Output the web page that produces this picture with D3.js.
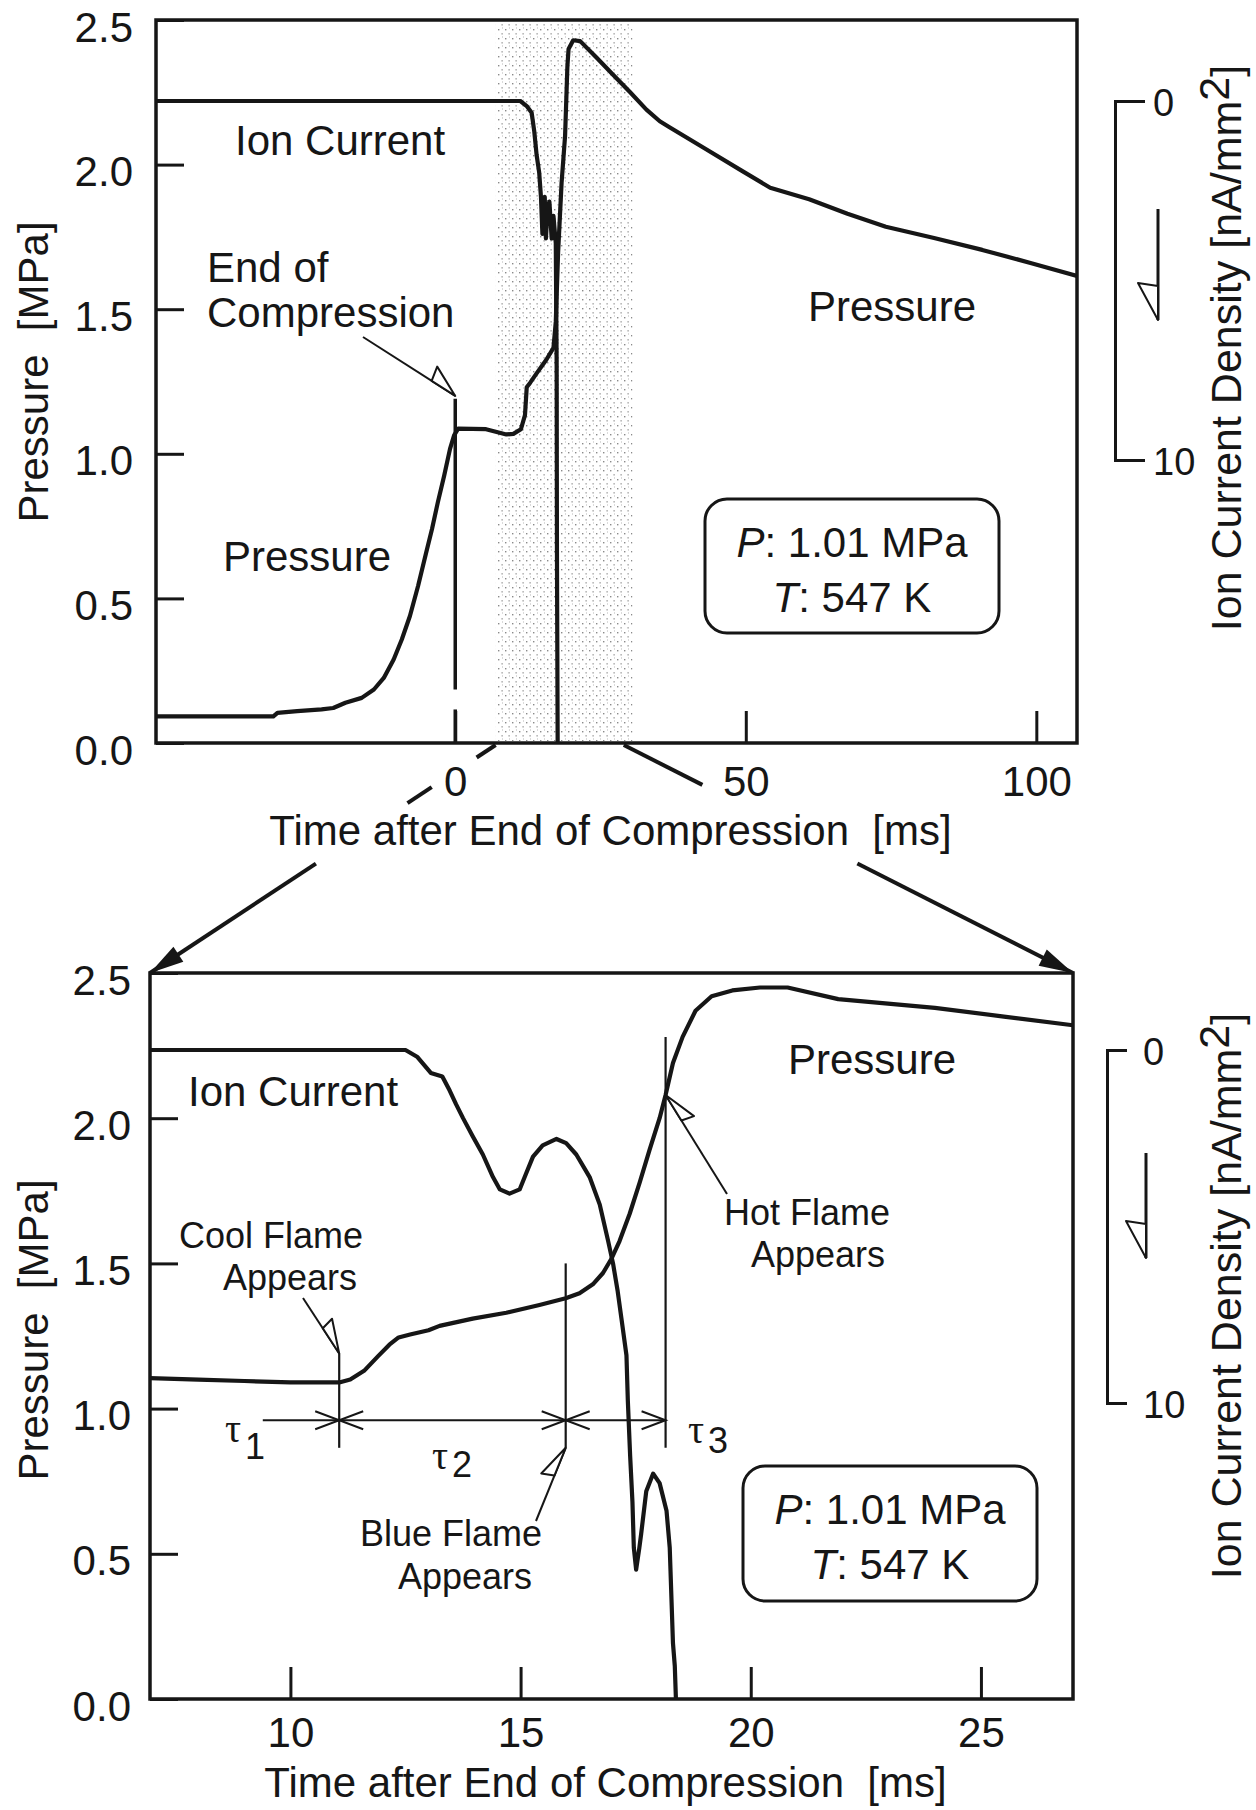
<!DOCTYPE html>
<html lang="en">
<head>
<meta charset="UTF-8">
<title>Pressure and Ion Current after End of Compression</title>
<script src="https://d3js.org/d3.v7.min.js"></script>
<style>
  body { margin: 0; background: #fff; }
  svg text { font-family: "Liberation Sans", Arial, Helvetica, sans-serif; fill: #161616; }
  .axis text { font-size: 42px; }
  .axis line { stroke: #161616; stroke-width: 3; }
  .ion-axis text { font-size: 38px; }
  .ion-axis path { stroke: #161616; stroke-width: 3; fill: none; }
  .lbl { font-size: 42px; }
  .rtitle { font-size: 43px; }
  .note { font-size: 36px; }
  .tau { font-family: "Liberation Serif", "DejaVu Serif", serif; font-size: 40px; }
</style>
</head>
<body>
<div id="chart"></div>
<script>
// ---------- data ----------
const yTickValues = [0, 0.5, 1.0, 1.5, 2.0, 2.5];
const topTimeTicks = [0, 50, 100];
const bottomTimeTicks = [10, 15, 20, 25];
const ionTicks = [0, 10];

// top panel: [time ms, pressure MPa]
const topPressure = [
  [-51.5, 0.092], [-31.3, 0.092], [-30.6, 0.104], [-27.2, 0.110], [-23.0, 0.116],
  [-21.0, 0.121], [-18.9, 0.139], [-16.1, 0.156], [-14.0, 0.185], [-12.3, 0.225],
  [-10.6, 0.289], [-9.2, 0.358], [-7.8, 0.439], [-6.4, 0.543], [-5.0, 0.659],
  [-4.0, 0.740], [-3.0, 0.832], [-1.9, 0.925], [-0.9, 1.017], [-0.2, 1.064],
  [0.5, 1.087], [5.3, 1.085], [8.8, 1.067], [10.0, 1.069], [11.3, 1.085],
  [12.0, 1.134], [12.3, 1.23], [12.9, 1.246], [14.0, 1.278], [15.7, 1.326],
  [16.9, 1.366], [17.3, 1.456], [17.7, 1.696], [18.3, 1.937], [18.9, 2.099],
  [19.3, 2.34], [19.5, 2.40], [20.3, 2.43], [21.5, 2.427], [24.3, 2.37],
  [27.2, 2.31], [30.1, 2.25], [32.9, 2.19], [35.2, 2.15], [36.8, 2.13],
  [42.6, 2.06], [49.2, 1.98], [54.2, 1.92], [60.9, 1.88], [67.5, 1.83],
  [74.1, 1.785], [82.4, 1.746], [90.7, 1.705], [99.0, 1.66], [107.0, 1.615]
];

// top panel: [time ms, ion current density nA/mm2]
const topIon = [
  [-51.5, 0], [11.2, 0], [12.3, 0.14], [13.15, 0.33], [13.6, 0.85], [14.0, 1.5],
  [14.45, 2.0], [14.75, 2.67], [15.0, 3.7], [15.2, 2.9], [15.4, 2.67], [15.6, 3.83],
  [15.9, 3.0], [16.2, 2.8], [16.6, 3.83], [16.9, 3.2], [17.3, 3.96], [17.45, 7.3],
  [17.5, 12.5], [17.65, 19]
];

// bottom panel: [time ms, pressure MPa]
const bottomPressure = [
  [6.95, 1.105], [8.0, 1.10], [9.0, 1.095], [10.0, 1.09], [11.06, 1.09],
  [11.3, 1.10], [11.6, 1.13], [11.9, 1.18], [12.15, 1.22], [12.35, 1.245],
  [12.6, 1.255], [13.0, 1.27], [13.24, 1.285], [13.96, 1.31], [14.69, 1.33],
  [15.41, 1.357], [15.98, 1.38], [16.28, 1.397], [16.57, 1.428], [16.79, 1.467],
  [16.97, 1.515], [17.15, 1.577], [17.37, 1.671], [17.59, 1.78], [17.8, 1.89],
  [18.02, 2.0], [18.15, 2.08], [18.31, 2.19], [18.52, 2.28], [18.8, 2.37],
  [19.15, 2.42], [19.6, 2.44], [20.2, 2.45], [20.8, 2.45], [21.9, 2.41],
  [24.0, 2.38], [25.5, 2.35], [27.0, 2.32]
];

// bottom panel: [time ms, ion current density nA/mm2]
const bottomIon = [
  [6.95, 0], [12.5, 0], [12.76, 0.2], [13.05, 0.65], [13.3, 0.75], [13.46, 1.15],
  [13.6, 1.54], [13.75, 1.93], [13.96, 2.44], [14.18, 2.96], [14.4, 3.6],
  [14.55, 3.95], [14.76, 4.07], [14.98, 3.95], [15.12, 3.5], [15.27, 3.02],
  [15.48, 2.7], [15.78, 2.52], [15.99, 2.64], [16.21, 2.96], [16.5, 3.6],
  [16.72, 4.38], [16.9, 5.4], [17.01, 6.06], [17.11, 6.84], [17.19, 7.6],
  [17.3, 8.65], [17.33, 9.94], [17.38, 11.5], [17.43, 12.8], [17.46, 14.1],
  [17.51, 14.72], [17.58, 14.1], [17.62, 13.7], [17.73, 12.5], [17.88, 12.0],
  [18.02, 12.27], [18.17, 13.05], [18.24, 14.1], [18.31, 16.8], [18.35, 17.45],
  [18.38, 18.6]
];

// event times [ms]
const coolFlame = 11.06, blueFlame = 15.98, hotFlame = 18.15;
const zoomFrom = 6.95, zoomTo = 29;      // window enlarged in lower panel
const shadeFrom = 7, shadeTo = 30.5;     // stippled band in upper panel

// ---------- setup ----------
const ink = "#161616";
const svg = d3.select("#chart").append("svg")
    .attr("width", 1256)
    .attr("height", 1810);

const defs = svg.append("defs");
const pat = defs.append("pattern").attr("id", "stipple")
    .attr("width", 7).attr("height", 9).attr("patternUnits", "userSpaceOnUse");
pat.append("rect").attr("x", 1).attr("y", 2).attr("width", 1.4).attr("height", 1.4).attr("fill", "#8a8a8a");
pat.append("rect").attr("x", 4.5).attr("y", 6).attr("width", 1.2).attr("height", 1.6).attr("fill", "#a0a0a0");
pat.append("rect").attr("x", 5).attr("y", 0.5).attr("width", 1).attr("height", 1).attr("fill", "#b8b8b8");

const topP = {
  id: "top",
  x: d3.scaleLinear().domain([-51.5, 107]).range([156, 1077]),
  y: d3.scaleLinear().domain([0, 2.5]).range([743, 20]),
  ion: d3.scaleLinear().domain([0, 10]).range([101, 460]),
  xTicks: topTimeTicks, xPad: 23, yPad: 23,
  pressure: topPressure, ionData: topIon,
  bracketX: 1115, bracketOuter: 30, bracketPad: 38,
  arrowX: 1158, arrowY: [209, 320],
  xTitleY: 845, yTitleY: 372, rTitleY: 348
};
const botP = {
  id: "bot",
  x: d3.scaleLinear().domain([6.95, 27]).range([150, 1073]),
  y: d3.scaleLinear().domain([0, 2.5]).range([1699, 973]),
  ion: d3.scaleLinear().domain([0, 10]).range([1050, 1403]),
  xTicks: bottomTimeTicks, xPad: 18, yPad: 19,
  pressure: bottomPressure, ionData: bottomIon,
  bracketX: 1107, bracketOuter: 20, bracketPad: 36,
  arrowX: 1146, arrowY: [1153, 1258],
  xTitleY: 1797, yTitleY: 1330, rTitleY: 1296
};

// half-open arrowhead used on leaders
function halfArrow(g, A, B, side, L = 30, w = 13, sw = 2) {
  const dx = B[0] - A[0], dy = B[1] - A[1], len = Math.hypot(dx, dy);
  const u = [dx / len, dy / len], n = [-u[1], u[0]];
  g.append("line").attr("x1", A[0]).attr("y1", A[1]).attr("x2", B[0]).attr("y2", B[1])
      .attr("stroke", ink).attr("stroke-width", sw);
  const base = [B[0] - u[0] * L, B[1] - u[1] * L];
  const apex = [base[0] + side * n[0] * w - u[0] * 3, base[1] + side * n[1] * w - u[1] * 3];
  g.append("path").attr("d", `M${B}L${base}L${apex}Z`)
      .attr("fill", "#fff").attr("stroke", ink).attr("stroke-width", 2).attr("stroke-linejoin", "round");
}

function chevron(g, x, y, dir) {
  g.append("path").attr("d", `M${x - dir * 24},${y - 9}L${x},${y}L${x - dir * 24},${y + 9}`)
      .attr("fill", "none").attr("stroke", ink).attr("stroke-width", 2);
}

function panel(p) {
  const g = svg.append("g");
  const [x0, x1] = p.x.range(), [y0, y1] = p.y.range();

  defs.append("clipPath").attr("id", p.id + "-clip").append("rect")
      .attr("x", x0).attr("y", y1).attr("width", x1 - x0).attr("height", y0 - y1);

  // axes (ticks point inward)
  g.append("g").attr("class", "axis").attr("transform", `translate(${x0},0)`)
      .call(d3.axisLeft(p.y).tickValues(yTickValues).tickFormat(d3.format(".1f"))
          .tickSizeInner(-28).tickSizeOuter(0).tickPadding(p.yPad))
      .call(a => a.select(".domain").remove())
      .call(a => a.selectAll("text").attr("dy", "0.5em"));

  g.append("g").attr("class", "axis").attr("transform", `translate(0,${y0})`)
      .call(d3.axisBottom(p.x).tickValues(p.xTicks)
          .tickSizeInner(-32).tickSizeOuter(0).tickPadding(p.xPad))
      .call(a => a.select(".domain").remove());

  const plot = g.append("g").attr("clip-path", `url(#${p.id}-clip)`);
  p.plot = plot;
  p.g = g;

  const pLine = d3.line().x(d => p.x(d[0])).y(d => p.y(d[1]));
  const iLine = d3.line().x(d => p.x(d[0])).y(d => p.ion(d[1]));

  p.drawCurves = () => {
    plot.append("path").datum(p.ionData).attr("d", iLine)
        .attr("fill", "none").attr("stroke", ink).attr("stroke-width", 4.2)
        .attr("stroke-linejoin", "round");
    plot.append("path").datum(p.pressure).attr("d", pLine)
        .attr("fill", "none").attr("stroke", ink).attr("stroke-width", 4.2)
        .attr("stroke-linejoin", "round");
    g.append("rect").attr("x", x0).attr("y", y1).attr("width", x1 - x0).attr("height", y0 - y1)
        .attr("fill", "none").attr("stroke", ink).attr("stroke-width", 3.5);
  };

  // ion current scale bracket on the right
  g.append("g").attr("class", "ion-axis").attr("transform", `translate(${p.bracketX},0)`)
      .call(d3.axisRight(p.ion).tickValues(ionTicks)
          .tickSizeInner(0).tickSizeOuter(p.bracketOuter).tickPadding(p.bracketPad))
      .call(a => a.selectAll("text").attr("dy", "0.38em"));

  // direction arrow (ion current increases downward)
  halfArrow(g, [p.arrowX, p.arrowY[0]], [p.arrowX, p.arrowY[1]], 1, 34, 20, 3);

  // titles
  g.append("text").attr("class", "lbl").attr("text-anchor", "middle")
      .attr("x", (x0 + x1) / 2 - 6).attr("y", p.xTitleY)
      .text("Time after End of Compression\u00a0\u00a0[ms]");
  g.append("text").attr("class", "lbl").attr("text-anchor", "middle")
      .attr("transform", `translate(48,${p.yTitleY}) rotate(-90)`)
      .text("Pressure\u00a0\u00a0[MPa]");
  const rt = g.append("text").attr("class", "rtitle").attr("text-anchor", "middle")
      .attr("transform", `translate(1241,${p.rTitleY}) rotate(-90)`);
  rt.append("tspan").text("Ion Current Density [nA/mm");
  rt.append("tspan").attr("dy", -12).text("2");
  rt.append("tspan").attr("dy", 12).text("]");

  return p;
}

function conditionsBox(g, x, y, w, h) {
  g.append("rect").attr("x", x).attr("y", y).attr("width", w).attr("height", h)
      .attr("rx", 22).attr("fill", "#fff").attr("stroke", ink).attr("stroke-width", 3);
  const cx = x + w / 2;
  const t1 = g.append("text").attr("class", "lbl").attr("text-anchor", "middle")
      .attr("x", cx).attr("y", y + 58);
  t1.append("tspan").attr("font-style", "italic").text("P");
  t1.append("tspan").text(": 1.01 MPa");
  const t2 = g.append("text").attr("class", "lbl").attr("text-anchor", "middle")
      .attr("x", cx).attr("y", y + 113);
  t2.append("tspan").attr("font-style", "italic").text("T");
  t2.append("tspan").text(": 547 K");
}

// ---------- top panel ----------
panel(topP);
topP.plot.append("rect")
    .attr("x", topP.x(shadeFrom)).attr("y", 24)
    .attr("width", topP.x(shadeTo) - topP.x(shadeFrom)).attr("height", topP.y(0) - 26)
    .attr("fill", "url(#stipple)");
topP.drawCurves();

// end-of-compression marker (with small break)
topP.g.append("line").attr("x1", topP.x(0)).attr("x2", topP.x(0))
    .attr("y1", topP.y(1.19)).attr("y2", topP.y(0.185))
    .attr("stroke", ink).attr("stroke-width", 3.5);
topP.g.append("line").attr("x1", topP.x(0)).attr("x2", topP.x(0))
    .attr("y1", topP.y(0.116)).attr("y2", topP.y(0))
    .attr("stroke", ink).attr("stroke-width", 3.5);
halfArrow(topP.g, [363, 337], [topP.x(0), topP.y(1.2)], -1, 28, 15);

topP.g.append("text").attr("class", "lbl").attr("x", 235).attr("y", 155).text("Ion Current");
topP.g.append("text").attr("class", "lbl").attr("x", 207).attr("y", 282).text("End of");
topP.g.append("text").attr("class", "lbl").attr("x", 207).attr("y", 327).text("Compression");
topP.g.append("text").attr("class", "lbl").attr("x", 223).attr("y", 571).text("Pressure");
topP.g.append("text").attr("class", "lbl").attr("x", 808).attr("y", 321).text("Pressure");
conditionsBox(topP.g, 705, 499, 294, 134);

// ---------- bottom panel ----------
panel(botP);
botP.drawCurves();

const bg = botP.g;
const tauY = botP.y(0.96);
const markBottom = botP.y(0.865);
[[coolFlame, 1.19], [blueFlame, 1.5], [hotFlame, 2.28]].forEach(([t, p]) => {
  bg.append("line").attr("x1", botP.x(t)).attr("x2", botP.x(t))
      .attr("y1", botP.y(p)).attr("y2", markBottom)
      .attr("stroke", ink).attr("stroke-width", 2.2);
});
bg.append("line").attr("x1", botP.x(9.4)).attr("x2", botP.x(hotFlame))
    .attr("y1", tauY).attr("y2", tauY).attr("stroke", ink).attr("stroke-width", 2);
chevron(bg, botP.x(coolFlame), tauY, 1);
chevron(bg, botP.x(coolFlame), tauY, -1);
chevron(bg, botP.x(blueFlame), tauY, 1);
chevron(bg, botP.x(blueFlame), tauY, -1);
chevron(bg, botP.x(hotFlame), tauY, 1);

[["1", 225, 1442, 1459], ["2", 432, 1469, 1477], ["3", 688, 1443, 1453]].forEach(([s, x, yb, ys]) => {
  bg.append("text").attr("class", "tau").attr("x", x).attr("y", yb).text("\u03c4");
  bg.append("text").attr("class", "note").attr("x", x + 20).attr("y", ys).text(s);
});

halfArrow(bg, [303, 1298], [botP.x(coolFlame), botP.y(1.19)], -1);
halfArrow(bg, [727, 1194], [botP.x(hotFlame), botP.y(2.08)], 1);
halfArrow(bg, [536, 1521], [botP.x(blueFlame), markBottom], -1);

bg.append("text").attr("class", "lbl").attr("x", 188).attr("y", 1106).text("Ion Current");
bg.append("text").attr("class", "lbl").attr("x", 788).attr("y", 1074).text("Pressure");
bg.append("text").attr("class", "note").attr("x", 179).attr("y", 1248).text("Cool Flame");
bg.append("text").attr("class", "note").attr("x", 223).attr("y", 1290).text("Appears");
bg.append("text").attr("class", "note").attr("x", 724).attr("y", 1225).text("Hot Flame");
bg.append("text").attr("class", "note").attr("x", 751).attr("y", 1267).text("Appears");
bg.append("text").attr("class", "note").attr("x", 360).attr("y", 1546).text("Blue Flame");
bg.append("text").attr("class", "note").attr("x", 398).attr("y", 1589).text("Appears");
conditionsBox(bg, 743, 1466, 294, 135);

// ---------- zoom connectors ----------
function connector(from, to, pieces) {
  const d = [to[0] - from[0], to[1] - from[1]];
  const at = f => [from[0] + d[0] * f, from[1] + d[1] * f];
  pieces.forEach(([a, b]) => {
    const p0 = at(a), p1 = at(b);
    svg.append("line").attr("x1", p0[0]).attr("y1", p0[1]).attr("x2", p1[0]).attr("y2", p1[1])
        .attr("stroke", ink).attr("stroke-width", 4);
  });
  const len = Math.hypot(d[0], d[1]), u = [d[0] / len, d[1] / len], n = [-u[1], u[0]];
  const b = [to[0] - u[0] * 34, to[1] - u[1] * 34];
  svg.append("path")
      .attr("d", `M${to}L${b[0] + n[0] * 9},${b[1] + n[1] * 9}L${b[0] - n[0] * 9},${b[1] - n[1] * 9}Z`)
      .attr("fill", ink);
}
connector([topP.x(zoomFrom), topP.y(0) + 2], [botP.x.range()[0], botP.y(2.5)],
    [[0, 0.055], [0.185, 0.255], [0.52, 1]]);
connector([topP.x(zoomTo), topP.y(0) + 2], [botP.x.range()[1], botP.y(2.5)],
    [[0, 0.175], [0.52, 1]]);
</script>
</body>
</html>
